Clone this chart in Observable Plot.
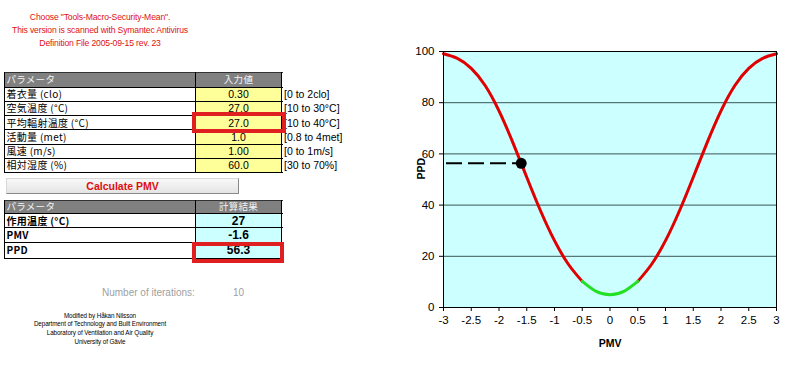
<!DOCTYPE html>
<html>
<head>
<meta charset="utf-8">
<script src="https://cdn.jsdelivr.net/npm/d3@7"></script>
<script src="https://cdn.jsdelivr.net/npm/@observablehq/plot@0.6"></script>
<style>
  html, body { margin: 0; padding: 0; background: #fff; }
  #page { position: relative; width: 802px; height: 366px; overflow: hidden; font-family: "Liberation Sans", Arial, sans-serif; }
  .abs { position: absolute; box-sizing: border-box; white-space: nowrap; }
  .lbl { font-family: "Noto Sans CJK JP", "Liberation Sans", sans-serif; font-size: 10px; letter-spacing: 0.3px; padding-left: 2px; }
  .val { font-family: "Liberation Sans", Arial, sans-serif; font-size: 10.5px; text-align: center; }
  .hdr { background: #808080; color: #f4f4f4; font-size: 9.5px; }
</style>
</head>
<body>
<div id="page"></div>
<script>
// ---------- data ----------
const noticeLines = ['Choose "Tools-Macro-Security-Mean".', "This version is scanned with Symantec Antivirus", "Definition File 2005-09-15 rev. 23"];
const paramHeader = ["パラメータ", "入力値"];
const paramLabels = ["着衣量 (clo)", "空気温度 (°C)", "平均輻射温度 (°C)", "活動量 (met)", "風速 (m/s)", "相対湿度 (%)"];
const inputValues = ["0.30", "27.0", "27.0", "1.0", "1.00", "60.0"];
const inputRanges = ["[0 to 2clo]", "[10 to 30°C]", "[10 to 40°C]", "[0.8 to 4met]", "[0 to 1m/s]", "[30 to 70%]"];
const resultHeader = ["パラメータ", "計算結果"];
const resultLabels = ["作用温度 (°C)", "PMV", "PPD"];
const resultValues = ["27", "-1.6", "56.3"];
const iterationsLabel = "Number of iterations:";
const iterations = "10";
const creditLines = ["Modified by Håkan Nilsson", "Department of Technology and Built Environment", "Laboratory of Ventilation and Air Quality", "University of Gävle"];

const pmvTicks = [-3, -2.5, -2, -1.5, -1, -0.5, 0, 0.5, 1, 1.5, 2, 2.5, 3];
const ppdTicks = [0, 20, 40, 60, 80, 100];
const curvePMV = [-3, -2.75, -2.5, -2.25, -2, -1.75, -1.5, -1.25, -1, -0.75, -0.5, -0.25, 0, 0.25, 0.5, 0.75, 1, 1.25, 1.5, 1.75, 2, 2.25, 2.5, 2.75, 3];
const curvePPD = [99.1, 97.3, 93.4, 86.7, 76.8, 64.4, 50.9, 37.7, 26.1, 16.9, 10.2, 6.3, 5.0, 6.3, 10.2, 16.9, 26.1, 37.7, 50.9, 64.4, 76.8, 86.7, 93.4, 97.3, 99.1];
const comfortRange = [-0.5, 0.5];
const currentPMV = -1.6;
const currentPPD = 56.3;

// ---------- left panel ----------
const page = document.getElementById("page");
function el(cls, css, html) {
  const d = document.createElement("div");
  d.className = "abs " + cls;
  Object.assign(d.style, css);
  if (html !== undefined) d.textContent = html;
  page.appendChild(d);
  return d;
}

noticeLines.forEach((t, i) => {
  el("", {left: "0px", width: "200px", top: (11 + i * 12.8) + "px", height: "13px", lineHeight: "13px",
    textAlign: "center", color: "#e01010", fontSize: "8.6px", letterSpacing: "-0.15px"}, t);
});

function table(x0, x1, xs, rowTops, header, labels, values, valueBg, bold, valFont) {
  const colW = [xs - x0, x1 - xs];
  const hh = rowTops[1] - rowTops[0];
  el("hdr lbl", {left: x0 + "px", top: rowTops[0] + "px", width: colW[0] + "px", height: hh + "px", lineHeight: hh + "px"}, header[0]);
  el("hdr lbl", {left: xs + "px", top: rowTops[0] + "px", width: colW[1] + "px", height: hh + "px", lineHeight: hh + "px",
    textAlign: "center", paddingLeft: "0"}, header[1]);
  labels.forEach((t, i) => {
    const top = rowTops[i + 1], h = rowTops[i + 2] - top;
    el("lbl", {left: x0 + "px", top: top + "px", width: colW[0] + "px", height: h + "px", lineHeight: h + "px",
      fontWeight: bold ? "bold" : "normal"}, t);
    el("val", {left: xs + "px", top: top + "px", width: colW[1] + "px", height: h + "px", lineHeight: h + "px",
      background: valueBg, fontWeight: bold ? "bold" : "normal", fontSize: valFont}, values[i]);
  });
  rowTops.forEach((y, i) => {
    el("", {left: x0 + "px", top: (y - 0.5) + "px", width: (x1 - x0 + 1) + "px", height: "1px", background: i === 0 ? "#333" : "#000"});
  });
  [x0, xs, x1].forEach(x => {
    el("", {left: (x - 0.5) + "px", top: rowTops[0] + "px", width: "1px", height: (rowTops[rowTops.length - 1] - rowTops[0]) + "px", background: "#000"});
  });
}

const t1Rows = [72, 87, 101.25, 115.5, 129.75, 144, 158.25, 172.5];
table(4.5, 281.5, 195.5, t1Rows, paramHeader, paramLabels, inputValues, "#ffff99", false, "10.5px");
inputRanges.forEach((t, i) => {
  const top = t1Rows[i + 1], h = t1Rows[i + 2] - top;
  el("", {left: "284px", top: top + "px", height: h + "px", lineHeight: h + "px", fontSize: "10.5px"}, t);
});

el("", {left: "6px", top: "178px", width: "233px", height: "16px", lineHeight: "15px", textAlign: "center",
  background: "linear-gradient(#f8f8f8, #e4e4e4)", borderTop: "1px solid #d8d8d8", borderLeft: "1px solid #d8d8d8",
  borderRight: "1px solid #8a8a8a", borderBottom: "1px solid #8a8a8a", color: "#dd1010", fontWeight: "bold", fontSize: "10.5px"}, "Calculate PMV");

const t2Rows = [200, 213.5, 227.75, 242, 258.5];
table(4.5, 281.5, 195.5, t2Rows, resultHeader, resultLabels, resultValues, "#ccffff", true, "12px");

el("", {left: "192px", top: "112px", width: "94px", height: "21px", border: "4px solid #e02020"});
el("", {left: "191.5px", top: "242px", width: "92px", height: "21px", border: "4px solid #e02020"});

el("", {left: "102px", top: "286px", height: "14px", lineHeight: "14px", fontSize: "10px", color: "#a0a0a0"}, iterationsLabel);
el("", {left: "233px", top: "286px", height: "14px", lineHeight: "14px", fontSize: "10px", color: "#a0a0a0"}, iterations);

creditLines.forEach((t, i) => {
  el("", {left: "0px", width: "200px", top: (310.5 + i * 8.8) + "px", height: "9px", lineHeight: "9px",
    textAlign: "center", fontSize: "6.3px", letterSpacing: "-0.1px", color: "#000"}, t);
});

// ---------- chart ----------
const curve = curvePMV.map((x, i) => ({pmv: x, ppd: curvePPD[i]}));
const leftPart = curve.filter(d => d.pmv <= comfortRange[0]);
const midPart = curve.filter(d => d.pmv >= comfortRange[0] && d.pmv <= comfortRange[1]);
const rightPart = curve.filter(d => d.pmv >= comfortRange[1]);

const chart = Plot.plot({
  width: 402,
  height: 366,
  marginLeft: 43,
  marginRight: 26,
  marginTop: 51,
  marginBottom: 59,
  style: {fontFamily: "'Liberation Sans', Arial, sans-serif", fontSize: "11.5px", background: "transparent", color: "#000"},
  x: {domain: [-3, 3]},
  y: {domain: [0, 100]},
  marks: [
    Plot.frame({fill: "#ccffff"}),
    Plot.ruleY(ppdTicks.filter(v => v > 0 && v < 100), {stroke: "#3a5656", strokeWidth: 1}),
    Plot.line(leftPart, {x: "pmv", y: "ppd", stroke: "#e00000", strokeWidth: 3, curve: "natural"}),
    Plot.line(rightPart, {x: "pmv", y: "ppd", stroke: "#e00000", strokeWidth: 3, curve: "natural"}),
    Plot.line(midPart, {x: "pmv", y: "ppd", stroke: "#22e022", strokeWidth: 3, curve: "natural"}),
    Plot.ruleY([currentPPD], {x1: -3, x2: currentPMV, stroke: "#000", strokeWidth: 2, strokeDasharray: "16,6", strokeDashoffset: -3}),
    Plot.dot([{pmv: currentPMV, ppd: currentPPD}], {x: "pmv", y: "ppd", r: 5.5, fill: "#000", stroke: "none"}),
    Plot.frame({stroke: "#000", strokeWidth: 1}),
    Plot.axisX({ticks: pmvTicks, tickFormat: d => String(d), tickSize: 4, tickPadding: 4, label: null}),
    Plot.axisY({ticks: ppdTicks, tickFormat: d => String(d), tickSize: 4, tickPadding: 5, label: null}),
    Plot.text(["PMV"], {text: d => d, frameAnchor: "bottom", dy: 36, fontWeight: "bold", fontSize: 10.5, lineAnchor: "middle"}),
    Plot.text(["PPD"], {text: d => d, frameAnchor: "left", dx: -22, rotate: -90, fontWeight: "bold", fontSize: 10.5, lineAnchor: "middle"})
  ]
});
const holder = document.createElement("div");
holder.className = "abs";
holder.style.left = "400px";
holder.style.top = "0px";
holder.appendChild(chart);
page.appendChild(holder);
</script>
</body>
</html>
